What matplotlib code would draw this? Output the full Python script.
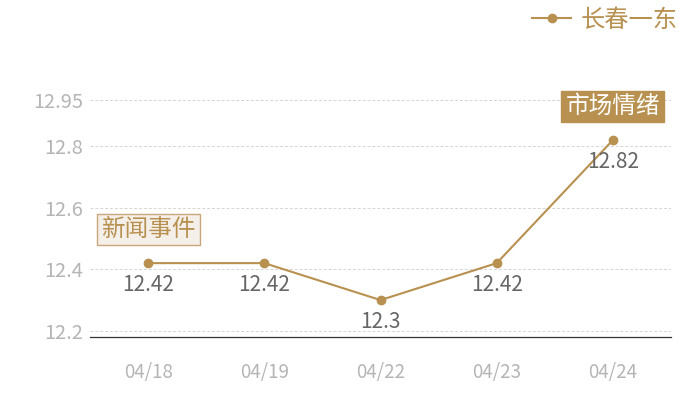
import matplotlib
matplotlib.use('Agg')
import matplotlib.pyplot as plt

plt.rcParams['font.family'] = ['Noto Sans CJK SC', 'DejaVu Sans']

dates = ['04/18', '04/19', '04/22', '04/23', '04/24']
prices = [12.42, 12.42, 12.3, 12.42, 12.82]
yticks = [12.2, 12.4, 12.6, 12.8, 12.95]
series_name = '长春一东'

gold = '#b8904f'

fig = plt.figure(figsize=(7, 4), dpi=100)
ax = fig.add_axes([0.1286, 0.1575, 0.83, 0.5925])

x = list(range(len(dates)))
ax.plot(x, prices, color=gold, lw=1.5, marker='o', ms=6, label=series_name, zorder=3)

for xi, v in zip(x, prices):
    ax.annotate(f'{v:g}', (xi, v), xytext=(0, -8), textcoords='offset points',
                ha='center', va='top', fontsize=15, color='#666666')

ax.set_xlim(-0.5, len(dates) - 0.5)
ax.set_ylim(12.18, 12.95)
ax.set_xticks(x)
ax.set_xticklabels(dates)
ax.set_yticks(yticks)
ax.set_yticklabels([f'{t:g}' for t in yticks])
ax.tick_params(axis='both', length=0, labelcolor='#b5b5b5')
ax.tick_params(axis='x', pad=18, labelsize=13.5)
ax.tick_params(axis='y', pad=5, labelsize=14.4)
ax.grid(axis='y', color='#d5d5d5', ls=(0, (3, 2)), lw=0.7)
for s in ['top', 'right', 'left']:
    ax.spines[s].set_visible(False)
ax.spines['bottom'].set_color('#333333')
ax.spines['bottom'].set_linewidth(0.9)

# event tags
ax.annotate('新闻事件', (0, prices[0]), xytext=(0, 16), textcoords='offset points',
            ha='center', va='bottom', fontsize=17, color=gold,
            bbox=dict(boxstyle='square,pad=0.18', fc='#f4efe8', ec='#c9a77a', lw=1))
ax.annotate('市场情绪', (4, prices[4]), xytext=(0, 16), textcoords='offset points',
            ha='center', va='bottom', fontsize=17, color='white',
            bbox=dict(boxstyle='square,pad=0.18', fc=gold, ec=gold, lw=1))

leg = fig.legend(loc='upper right', bbox_to_anchor=(0.982, 1.008), frameon=False,
                 fontsize=17.5, handlelength=1.6, handletextpad=0.4, borderaxespad=0)
for t in leg.get_texts():
    t.set_color(gold)

fig.savefig('out.png', dpi=100)
